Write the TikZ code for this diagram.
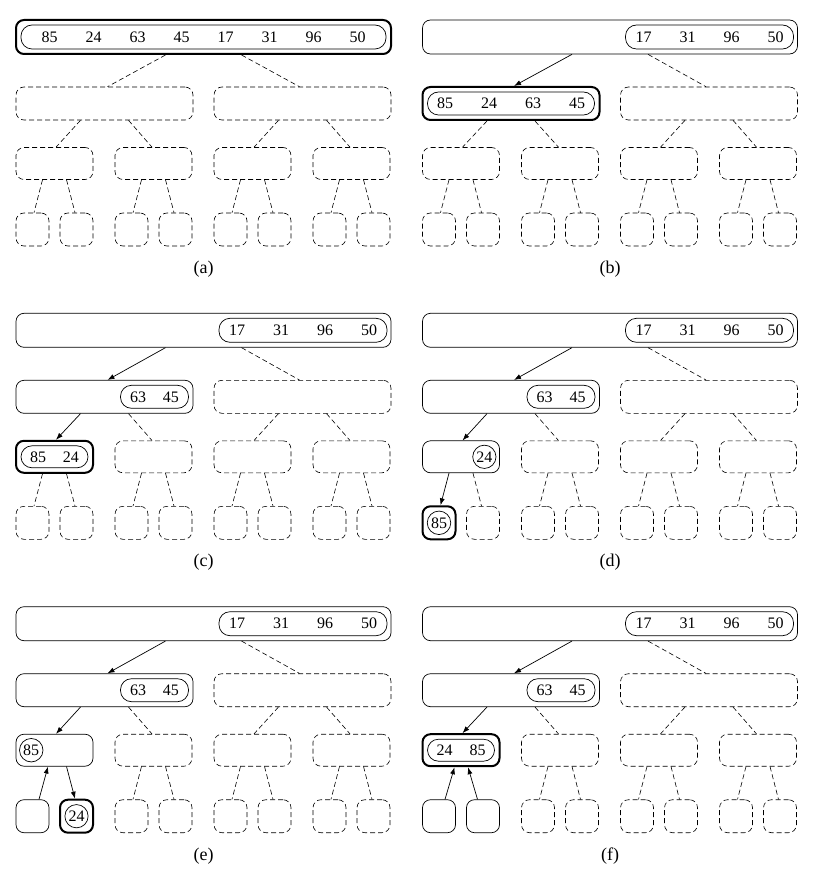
\documentclass[tikz,border=0pt]{standalone}
\usepackage{fontspec}
\setmainfont{Liberation Serif}
\usetikzlibrary{arrows.meta}
\newcommand{\kgap}{\hspace{28pt}}
\newcommand{\sgap}{\hspace{17pt}}

\begin{document}
\begin{tikzpicture}[
    x=1pt, y=-1pt,
    font=\fontsize{16}{19}\selectfont,
    slot/.style={draw, dash pattern=on 5pt off 3pt, rounded corners=8pt, inner sep=0pt, line width=0.6pt},
    full/.style={draw, rounded corners=8pt, inner sep=0pt, line width=0.7pt},
    cur/.style={draw, rounded corners=8pt, inner sep=0pt, line width=2pt},
    keys/.style={draw, rounded corners=11pt, minimum height=23pt, inner sep=0pt, line width=0.7pt},
    key/.style={draw, circle, inner sep=1.5pt, line width=0.7pt},
    caption/.style={font=\fontsize{18}{21}\selectfont},
    link/.style={dash pattern=on 5pt off 3pt, line width=0.6pt},
    arrow/.style={-{Latex[length=7pt, width=5pt]}, line width=0.7pt}
  ]
  \useasboundingbox (0,0) rectangle (824,874);
  % tree skeleton of each panel
  \foreach \p/\px/\py/\rs/\ns/\ms/\las/\lbs/\ra/\rb in {
      a/16/20/cur/slot/slot/slot/slot/link/link,
      b/422.5/20/full/cur/slot/slot/slot/arrow/link,
      c/16/313.3/full/full/cur/slot/slot/arrow/arrow,
      d/422.5/313.3/full/full/full/cur/slot/arrow/arrow,
      e/16/606.7/full/full/full/full/cur/arrow/arrow,
      f/422.5/606.7/full/full/cur/full/full/arrow/arrow} {
    \begin{scope}[shift={(\px,\py)}]
      \node[\rs, minimum width=375pt, minimum height=34pt] (\p-r) at (187.5,17) {};
      \node[\ns, minimum width=177pt, minimum height=33pt] (\p-n0) at (88.5,83.5) {};
      \node[slot, minimum width=177pt, minimum height=33pt] (\p-n1) at (286.5,83.5) {};
      \node[\ms, minimum width=77pt, minimum height=32pt] (\p-m0) at (38.5,143.5) {};
      \foreach \i/\x in {1/137.5, 2/236.5, 3/335.5}
        \node[slot, minimum width=77pt, minimum height=32pt] (\p-m\i) at (\x,143.5) {};
      \node[\las, minimum width=33pt, minimum height=33pt] (\p-l0) at (16.5,209.5) {};
      \node[\lbs, minimum width=33pt, minimum height=33pt] (\p-l1) at (60.5,209.5) {};
      \foreach \i/\x in {2/115.5, 3/159.5, 4/214.5, 5/258.5, 6/313.5, 7/357.5}
        \node[slot, minimum width=33pt, minimum height=33pt] (\p-l\i) at (\x,209.5) {};
      \node[caption] (\p-lab) at (187.5,249) {(\p)};

      \draw[\ra] ([xshift=-38pt]\p-r.south) -- ([xshift=3pt]\p-n0.north);
      \draw[link] ([xshift=38pt]\p-r.south) -- ([xshift=-3pt]\p-n1.north);
      \draw[\rb] ([xshift=-24pt]\p-n0.south) -- ([xshift=1.5pt]\p-m0.north);
      \draw[link] ([xshift=24pt]\p-n0.south) -- ([xshift=-1.5pt]\p-m1.north);
      \draw[link] ([xshift=-24pt]\p-n1.south) -- ([xshift=1.5pt]\p-m2.north);
      \draw[link] ([xshift=24pt]\p-n1.south) -- ([xshift=-1.5pt]\p-m3.north);
      \foreach \i/\j/\k in {1/2/3, 2/4/5, 3/6/7} {
        \draw[link] ([xshift=-12pt]\p-m\i.south) -- ([xshift=1.5pt]\p-l\j.north);
        \draw[link] ([xshift=12pt]\p-m\i.south) -- ([xshift=-1.5pt]\p-l\k.north);
      }
    \end{scope}
  }

  % keys held by the nodes
  \node[keys, minimum width=365pt, minimum height=24pt] (a-rk) at (a-r) {85\kgap 24\kgap 63\kgap 45\kgap 17\kgap 31\kgap 96\kgap 50};
  \foreach \p in {b,c,d,e,f}
    \node[keys, minimum width=168pt, minimum height=24pt, anchor=east] (\p-rk) at ([xshift=-4pt]\p-r.east) {17\kgap 31\kgap 96\kgap 50};
  \node[keys, minimum width=167pt] (b-nk) at (b-n0) {85\kgap 24\kgap 63\kgap 45};
  \foreach \p in {c,d,e,f}
    \node[keys, minimum width=68pt, anchor=east] (\p-nk) at ([xshift=-4.5pt]\p-n0.east) {63\sgap 45};
  \node[keys, minimum width=67pt, minimum height=22pt] (c-mk) at (c-m0) {85\sgap 24};
  \node[key, anchor=east] (d-mk) at ([xshift=-3.5pt]d-m0.east) {24};
  \node[key] (d-lk) at (d-l0) {85};
  \node[key, anchor=west] (e-mk) at ([xshift=3.5pt]e-m0.west) {85};
  \node[key] (e-lk) at (e-l1) {24};
  \node[keys, minimum width=67pt, minimum height=22pt] (f-mk) at (f-m0) {24\sgap 85};

  % links between the lowest two levels
  \foreach \p in {a,b,c} {
    \draw[link] ([xshift=-12pt]\p-m0.south) -- ([xshift=1.5pt]\p-l0.north);
    \draw[link] ([xshift=12pt]\p-m0.south) -- ([xshift=-1.5pt]\p-l1.north);
  }
  \draw[arrow] ([xshift=-12pt]d-m0.south) -- ([xshift=1.5pt]d-l0.north);
  \draw[link] ([xshift=12pt]d-m0.south) -- ([xshift=-1.5pt]d-l1.north);
  \draw[arrow] ([xshift=6.5pt]e-l0.north) -- ([xshift=-6.5pt]e-m0.south);
  \draw[arrow] ([xshift=12pt]e-m0.south) -- ([xshift=-1.5pt]e-l1.north);
  \draw[arrow] ([xshift=6pt]f-l0.north) -- ([xshift=-6.5pt]f-m0.south);
  \draw[arrow] ([xshift=-5.5pt]f-l1.north) -- ([xshift=7pt]f-m0.south);
\end{tikzpicture}
\end{document}
